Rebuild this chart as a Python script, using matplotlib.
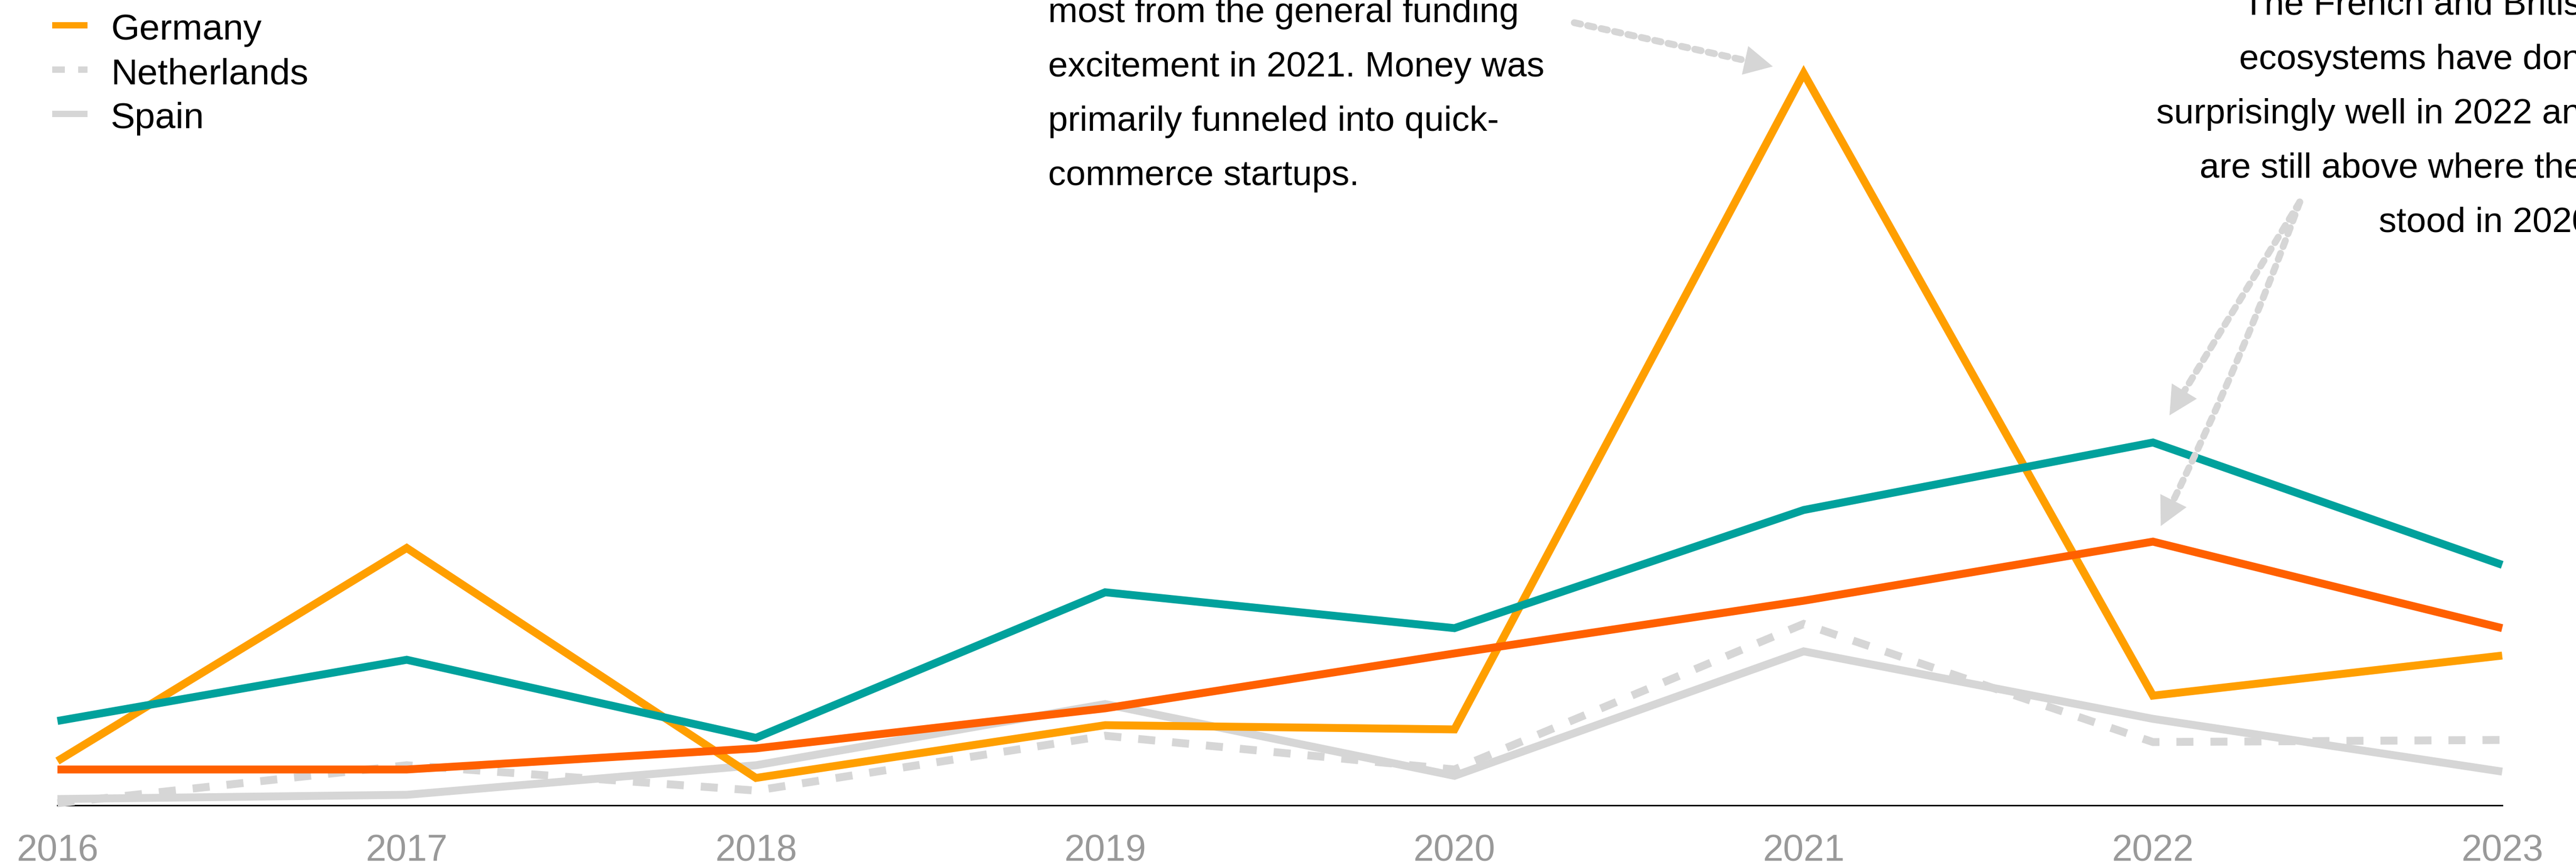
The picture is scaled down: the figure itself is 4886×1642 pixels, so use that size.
import matplotlib
matplotlib.use("Agg")
import matplotlib.pyplot as plt
from matplotlib.lines import Line2D

# ---- data (funding, € billions) ----
years = [2016, 2017, 2018, 2019, 2020, 2021, 2022, 2023]
year_labels = [str(y) for y in years]
united_kingdom = [0.40, 0.69, 0.32, 1.01, 0.84, 1.40, 1.72, 1.14]
france = [0.17, 0.17, 0.27, 0.46, 0.72, 0.97, 1.25, 0.84]
germany = [0.21, 1.22, 0.13, 0.38, 0.36, 3.47, 0.52, 0.71]
netherlands = [0.01, 0.19, 0.07, 0.33, 0.17, 0.86, 0.30, 0.31]
spain = [0.03, 0.05, 0.19, 0.48, 0.14, 0.73, 0.41, 0.16]

note_germany = ["most from the general funding",
                "excitement in 2021. Money was",
                "primarily funneled into quick-",
                "commerce startups."]
note_fr_uk = ["The French and British",
              "ecosystems have done",
              "surprisingly well in 2022 and",
              "are still above where they",
              "stood in 2020."]

# ---- style ----
TEAL = "#00A19C"
DARK_ORANGE = "#FF6000"
ORANGE = "#FF9F00"
GRAY = "#D6D6D6"
TICK_GRAY = "#999999"

W, H, DPI = 4886, 1642, 200
plt.rcParams['font.family'] = ['Liberation Sans', 'DejaVu Sans']

fig = plt.figure(figsize=(W / DPI, H / DPI), dpi=DPI)
fig.patch.set_facecolor("white")


def fx(px):
    return px / W


def fy(py):
    return 1 - py / H


px2pt = 72.0 / DPI
LW = 15 * px2pt

ax = fig.add_axes([fx(109), fy(1527), fx(4746) - fx(109), 1 - fy(1527)])
ax.set_xlim(years[0], years[-1])
ax.set_ylim(0, 1527 / 400)
ax.set_facecolor("none")
for side in ("left", "right", "top"):
    ax.spines[side].set_visible(False)
ax.spines["bottom"].set_color("black")
ax.spines["bottom"].set_linewidth(1.0)
ax.spines["bottom"].set_zorder(1)
ax.set_yticks([])
ax.set_xticks(years, year_labels)
ax.tick_params(axis="x", length=0, pad=19.5, labelsize=25.2, labelcolor=TICK_GRAY)

NL_DASH = (0, (2.15, 2.15))
series = [
    ("United Kingdom", united_kingdom, TEAL, "-"),
    ("France", france, DARK_ORANGE, "-"),
    ("Germany", germany, ORANGE, "-"),
    ("Netherlands", netherlands, GRAY, NL_DASH),
    ("Spain", spain, GRAY, "-"),
]

# draw bottom of the legend list first so the top entries sit above
for z, (name, vals, col, ls) in enumerate(reversed(series)):
    ax.plot(years, vals, color=col, lw=LW, ls=ls, clip_on=False,
            solid_joinstyle="miter", solid_capstyle="butt",
            dash_capstyle="butt", dash_joinstyle="miter", zorder=3 + z)

# ---- legend (rows stacked upward beyond the top edge) ----
row_gap = 84
germany_row = 48
for i, (name, vals, col, ls) in enumerate(series):
    yc = germany_row + (i - 2) * row_gap
    hls = (0, (2.0, 2.1)) if ls != "-" else "-"
    fig.add_artist(Line2D([fx(99), fx(166)], [fy(yc), fy(yc)],
                          transform=fig.transFigure, color=col,
                          lw=12 * px2pt, ls=hls, solid_capstyle="butt",
                          dash_capstyle="butt"))
    fig.text(fx(210), fy(yc + 27), name, fontsize=25, color="black",
             ha="left", va="baseline")

# ---- annotations ----
NOTE_FS = 24.2
line_step = 103
for k, line in enumerate(note_germany):
    fig.text(fx(1988), fy(42 + k * line_step), line, fontsize=NOTE_FS,
             ha="left", va="baseline", color="black")
for k, line in enumerate(note_fr_uk):
    fig.text(fx(4934), fy(28 + k * line_step), line, fontsize=NOTE_FS,
             ha="right", va="baseline", color="black")

ARROW_LW = 13 * px2pt
HEAD_LEN = 19.4
HEAD_W = 10.0


def dotted_arrow(start_px, target, tip_gap, rad=0.0):
    xytext = (start_px[0], H - start_px[1])
    cs = f"arc3,rad={rad}"
    ax.annotate("", xy=target, xycoords="data", xytext=xytext,
                textcoords="figure pixels",
                arrowprops=dict(arrowstyle="-", color=GRAY, lw=ARROW_LW,
                                linestyle=(0, (0.95, 1.05)),
                                connectionstyle=cs, shrinkA=0,
                                shrinkB=tip_gap + HEAD_LEN - 4),
                annotation_clip=False, zorder=20)
    ax.annotate("", xy=target, xycoords="data", xytext=xytext,
                textcoords="figure pixels",
                arrowprops=dict(arrowstyle=f"-|>,head_length={HEAD_LEN},head_width={HEAD_W}",
                                fc=GRAY, ec="none", lw=0,
                                mutation_scale=1,
                                connectionstyle=cs, shrinkA=0,
                                shrinkB=tip_gap),
                annotation_clip=False, zorder=21)


dotted_arrow((2986, 43), (2021, germany[5]), 21.6)
dotted_arrow((4362, 383), (2022, united_kingdom[6]), 21.7)
dotted_arrow((4362, 383), (2022, france[6]), 11.9, rad=-0.03)

fig.savefig("out.png", dpi=DPI, facecolor="white")
